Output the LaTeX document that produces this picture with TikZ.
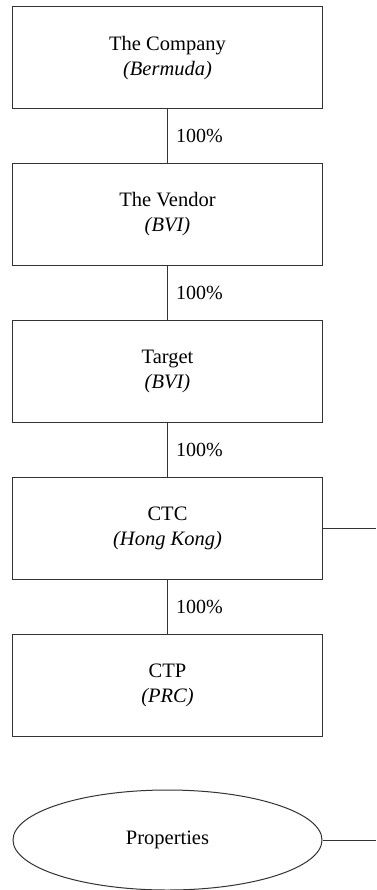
\documentclass[tikz,border=0pt]{standalone}
\usepackage{fontspec}
\setmainfont{Liberation Serif}
\usetikzlibrary{shapes.geometric}
\begin{document}
\begin{tikzpicture}[x=1pt,y=-1pt,
  ent/.style={draw=black!80,line width=1pt,rectangle,minimum width=309.5pt,minimum height=102pt,align=center,font=\fontsize{20.5}{25}\selectfont,inner sep=0pt},
  prop/.style={draw=black!80,line width=1pt,ellipse,minimum width=309pt,minimum height=100pt,inner sep=0pt,font=\fontsize{20.5}{25}\selectfont},
  link/.style={draw=black!80,line width=1pt},
  pct/.style={anchor=west,font=\fontsize{20}{24}\selectfont,inner sep=0pt}]
\useasboundingbox (0,0) rectangle (376,890);
\node[ent] (co) at (167.5,58) {The Company\\\textit{(Bermuda)}};
\node[ent] (ve) at (167.5,214.5) {The Vendor\\\textit{(BVI)}};
\node[ent] (ta) at (167.5,371) {Target\\\textit{(BVI)}};
\node[ent] (ctc) at (167.5,528) {CTC\\\textit{(Hong Kong)}};
\node[ent] (ctp) at (167.5,685) {CTP\\\textit{(PRC)}};
\node[prop] (pr) at (167.5,840) {Properties};
\coordinate (e1) at (376,528);
\coordinate (e2) at (376,840);
\draw[link] (co) -- node[pct,xshift=8pt] (l1) {100\%} (ve);
\draw[link] (ve) -- node[pct,xshift=8pt] (l2) {100\%} (ta);
\draw[link] (ta) -- node[pct,xshift=8pt] (l3) {100\%} (ctc);
\draw[link] (ctc) -- node[pct,xshift=8pt] (l4) {100\%} (ctp);
\draw[link] (ctc.east) -- (e1);
\draw[link] (pr.east) -- (e2);
\end{tikzpicture}
\end{document}
